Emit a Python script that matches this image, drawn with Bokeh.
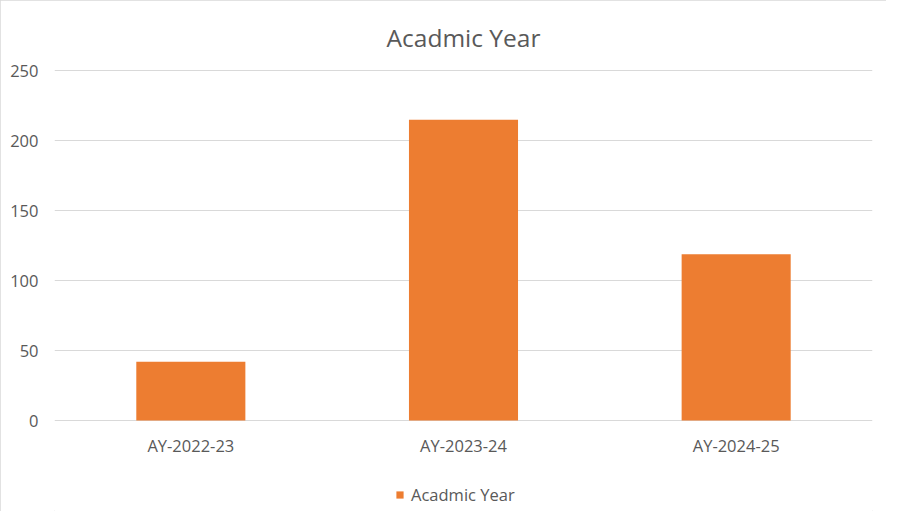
from bokeh.plotting import figure
from bokeh.models import ColumnDataSource, Range1d, FactorRange, Legend, LegendItem, FixedTicker
from bokeh.embed import file_html
from bokeh.resources import INLINE

categories = ["AY-2022-23", "AY-2023-24", "AY-2024-25"]
values = [42, 215, 119]
y_ticks = [0, 50, 100, 150, 200, 250]
series_name = "Acadmic Year"
chart_title = "Acadmic Year"

FONT = "Open Sans"
GRAY = "#595959"
GRID = "#d9d9d9"
BAR = "#ed7d31"

source = ColumnDataSource(data=dict(cat=categories, val=values))

p = figure(
    frame_width=818, frame_height=442,
    x_range=FactorRange(*categories),
    y_range=Range1d(-65, 251),
    output_backend="svg",
    toolbar_location=None,
    title=chart_title,
    min_border_left=54, min_border_right=14, min_border_top=69, min_border_bottom=0,
)
p.styles = {"outline": "1px solid #d9d9d9", "outline-offset": "-1px"}

r = p.vbar(x="cat", top="val", width=0.4, source=source, color=BAR, line_color=None)

p.title.align = "center"
p.title.text_font = FONT
p.title.text_font_size = "24.5px"
p.title.text_font_style = "normal"
p.title.text_color = GRAY
p.title.offset = 0
p.title.standoff = 31

p.outline_line_color = None
p.xgrid.grid_line_color = None
p.ygrid.grid_line_color = GRID
p.ygrid.grid_line_width = 1

p.yaxis.ticker = FixedTicker(ticks=y_ticks)
p.xaxis.fixed_location = 0
for ax in (p.xaxis, p.yaxis):
    ax.axis_line_color = None
    ax.major_tick_line_color = None
    ax.minor_tick_line_color = None
    ax.major_label_text_font = FONT
    ax.major_label_text_font_size = "16.5px"
    ax.major_label_text_color = GRAY
p.yaxis.major_label_standoff = 10
p.xaxis.major_label_standoff = 7

legend = Legend(items=[LegendItem(label=series_name, renderers=[r])],
                orientation="horizontal", location=(341, 5),
                border_line_color=None, background_fill_alpha=0,
                label_text_font=FONT, label_text_font_size="16.5px",
                label_text_color=GRAY, glyph_width=9, glyph_height=9,
                label_standoff=7, padding=2, margin=0)
p.add_layout(legend)

open("out.html", "w").write(file_html(p, INLINE))
